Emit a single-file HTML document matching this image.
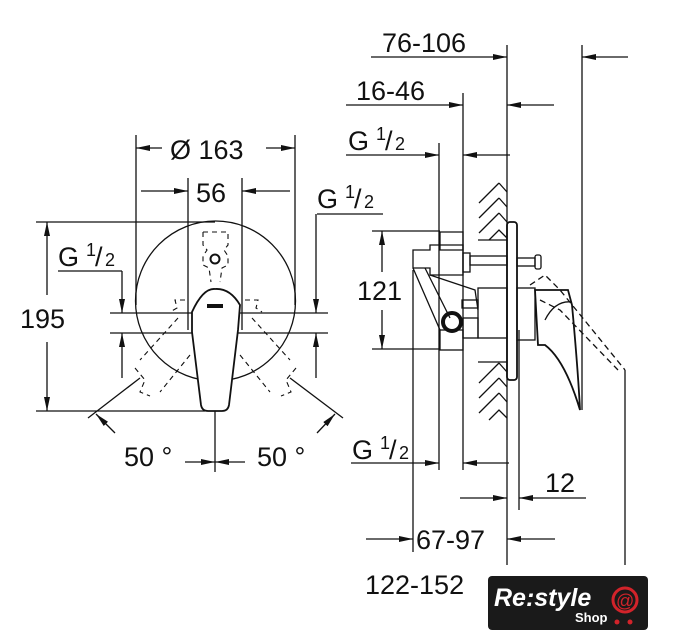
<!DOCTYPE html>
<html><head><style>
html,body{margin:0;padding:0;background:#fff;width:697px;height:640px;overflow:hidden}
text{font-family:"Liberation Sans",sans-serif;fill:#111}
</style></head><body>
<svg width="697" height="640" viewBox="0 0 697 640" xmlns="http://www.w3.org/2000/svg">
<defs>
<marker id="a" markerWidth="14" markerHeight="8" refX="14" refY="4" orient="auto" markerUnits="userSpaceOnUse"><path d="M0,1 L14,4 L0,7 Z" fill="#111"/></marker>
</defs>
<g stroke="#111" stroke-width="1.3" fill="none">
<circle cx="215.5" cy="301" r="80"/>
<line x1="136" y1="135" x2="136" y2="305"/><line x1="295" y1="135" x2="295" y2="305"/>
<line x1="162" y1="148" x2="136" y2="148" marker-end="url(#a)"/>
<line x1="266" y1="148" x2="295" y2="148" marker-end="url(#a)"/>
<line x1="188" y1="178" x2="188" y2="330"/><line x1="242" y1="178" x2="242" y2="330"/>
<line x1="141" y1="191" x2="188" y2="191" marker-end="url(#a)"/>
<line x1="290" y1="191" x2="242" y2="191" marker-end="url(#a)"/>
<line x1="36" y1="222" x2="215" y2="222"/><line x1="36" y1="411" x2="205" y2="411"/>
<line x1="47" y1="295" x2="47" y2="222" marker-end="url(#a)"/>
<line x1="47" y1="342" x2="47" y2="411" marker-end="url(#a)"/>
<line x1="58" y1="271" x2="122" y2="271"/>
<line x1="122" y1="271" x2="122" y2="313" marker-end="url(#a)"/>
<line x1="122" y1="378" x2="122" y2="333" marker-end="url(#a)"/>
<line x1="110" y1="313" x2="328" y2="313"/><line x1="110" y1="333" x2="328" y2="333"/>
<line x1="317" y1="214" x2="383" y2="214"/>
<line x1="316" y1="214" x2="316" y2="313" marker-end="url(#a)"/>
<line x1="316" y1="378" x2="316" y2="333" marker-end="url(#a)"/>
<g stroke-dasharray="5,4" stroke-width="1.1">
<path d="M203,232 L228,232 L228,245 L224,250 L228,256 L228,265 L222,268 L220,282 M203,232 L203,245 L207,250 L203,256 L203,265 L209,268 L211,282"/>
<path d="M198,355 L230,355 L230,345 L235,340 L235,330 M198,355 L198,345 L193,340 L193,330"/>
<path d="M185,300 L175,300 L177,308 L170,312 M245,300 L258,300 L256,308 L262,312"/>
<path d="M178,318 L140,360 M252,318 L290,360 M190,355 L160,392 M240,355 L270,392"/>
<path d="M135,368 L145,380 L140,392 L150,396 M296,368 L286,380 L291,392 L281,396"/>
</g>
<circle cx="215" cy="259" r="4.5" stroke-width="2"/>
<path d="M192,312 Q203,288 215,289 Q230,288 240,305 L238,330 L229,405 Q228,411 222,411 L208,411 Q202,411 201,405 L192,332 Z" stroke-width="1.8" fill="#fff"/>
<line x1="207" y1="306" x2="223" y2="306" stroke-width="4"/>
<line x1="215" y1="411" x2="215" y2="472"/>
<line x1="140" y1="378" x2="88" y2="418"/><line x1="290" y1="378" x2="343" y2="418"/>
<line x1="115" y1="433" x2="96" y2="414" marker-end="url(#a)"/>
<line x1="317" y1="433" x2="335" y2="414" marker-end="url(#a)"/>
<line x1="185" y1="462" x2="215" y2="462" marker-end="url(#a)"/>
<line x1="245" y1="462" x2="215" y2="462" marker-end="url(#a)"/>

<line x1="371" y1="57" x2="507" y2="57" marker-end="url(#a)"/>
<line x1="628" y1="57" x2="582" y2="57" marker-end="url(#a)"/>
<line x1="507" y1="45" x2="507" y2="565"/>
<line x1="582" y1="45" x2="582" y2="410"/>
<line x1="346" y1="105" x2="463" y2="105" marker-end="url(#a)"/>
<line x1="554" y1="105" x2="507" y2="105" marker-end="url(#a)"/>
<line x1="463" y1="93" x2="463" y2="470"/>
<line x1="346" y1="155" x2="439" y2="155" marker-end="url(#a)"/>
<line x1="510" y1="155" x2="463" y2="155" marker-end="url(#a)"/>
<line x1="439" y1="143" x2="439" y2="470"/>
<line x1="372" y1="231" x2="440" y2="231"/><line x1="372" y1="349" x2="440" y2="349"/>
<line x1="382" y1="272" x2="382" y2="231" marker-end="url(#a)"/>
<line x1="382" y1="310" x2="382" y2="349" marker-end="url(#a)"/>
<line x1="413" y1="270" x2="413" y2="552"/>
<line x1="351" y1="463" x2="439" y2="463" marker-end="url(#a)"/>
<line x1="509" y1="463" x2="463" y2="463" marker-end="url(#a)"/>
<line x1="519" y1="330" x2="519" y2="510"/>
<line x1="460" y1="498" x2="507" y2="498" marker-end="url(#a)"/>
<line x1="586" y1="498" x2="519" y2="498" marker-end="url(#a)"/>
<line x1="366" y1="539" x2="413" y2="539" marker-end="url(#a)"/>
<line x1="555" y1="539" x2="507" y2="539" marker-end="url(#a)"/>
<line x1="625" y1="370" x2="625" y2="565"/>
<path d="M479,203 L499,183 M479,218 L499,198 M479,233 L499,213 M499,183 L507,192 M499,198 L507,207 M499,213 L507,222 M489,240 L499,230 L507,238"/>
<line x1="478" y1="240" x2="507" y2="240"/>
<path d="M479,383 L499,363 M479,398 L499,378 M479,413 L499,393 M499,363 L507,372 M499,378 L507,387 M499,393 L507,402 M489,420 L499,410 L507,418"/>
<line x1="478" y1="362" x2="507" y2="362"/>
<rect x="507" y="222" width="10" height="158" rx="3" stroke-width="1.8"/>
<path d="M440,232 L463,232 L463,250 L440,250 Z"/>
<path d="M413,250 L430,250 L430,245 L463,245 L463,275 L430,275 L430,268 L413,268 Z"/>
<rect x="463" y="253" width="7" height="19"/>
<rect x="470" y="256" width="37" height="9"/>
<rect x="517" y="258" width="18" height="8"/>
<rect x="535" y="255" width="6" height="14" rx="2"/>
<path d="M413,268 L440,330 M425,268 L450,318 M430,275 L475,290 L478,310"/>
<rect x="478" y="288" width="29" height="50"/>
<rect x="462" y="300" width="16" height="8"/>
<rect x="463" y="318" width="15" height="20"/>
<rect x="440" y="330" width="23" height="20"/>
<circle cx="452" cy="322" r="9" stroke-width="4"/>
<rect x="517" y="288" width="18" height="52"/>
<path d="M535,290 L568,290 L572,305 Q578,370 580,410 Q565,360 545,345 L538,345 Z" stroke-width="1.8" fill="#fff"/>
<path d="M545,320 Q555,300 572,302"/>
<g stroke-dasharray="6,4"><path d="M530,285 L545,275 L560,290 L625,370 M540,300 L560,310 L618,370"/></g>
</g>
<g font-size="27">
<text x="170" y="159">Ø 163</text>
<text x="196" y="202">56</text>
<text x="20" y="328">195</text>
<text x="58" y="266">G</text><text x="86" y="256" font-size="18">1</text><text x="95" y="266">/</text><text x="105" y="266" font-size="18">2</text>
<text x="317" y="208">G</text><text x="345" y="198" font-size="18">1</text><text x="354" y="208">/</text><text x="364" y="208" font-size="18">2</text>
<text x="124" y="466">50 °</text>
<text x="257" y="466">50 °</text>
<text x="382" y="52">76-106</text>
<text x="356" y="100">16-46</text>
<text x="348" y="150">G</text><text x="376" y="140" font-size="18">1</text><text x="385" y="150">/</text><text x="395" y="150" font-size="18">2</text>
<text x="357" y="300">121</text>
<text x="352" y="459">G</text><text x="380" y="449" font-size="18">1</text><text x="389" y="459">/</text><text x="399" y="459" font-size="18">2</text>
<text x="545" y="492">12</text>
<text x="416" y="549">67-97</text>
<text x="365" y="594">122-152</text>
</g>
<rect x="488" y="576" width="160" height="54" rx="4" fill="#1a1a1a"/>
<text x="494" y="606" font-size="25" font-style="italic" font-weight="bold" style="fill:#fff">Re:style</text>
<text x="575" y="622" font-size="13" font-weight="bold" style="fill:#fff">Shop</text>
<circle cx="625" cy="600" r="12" fill="none" stroke="#d2232a" stroke-width="3"/>
<text x="616" y="607" font-size="18" style="fill:#d2232a">@</text>
<circle cx="617" cy="622" r="2.5" fill="#d2232a"/><circle cx="630" cy="622" r="2.5" fill="#d2232a"/>
</svg>
</body></html>
